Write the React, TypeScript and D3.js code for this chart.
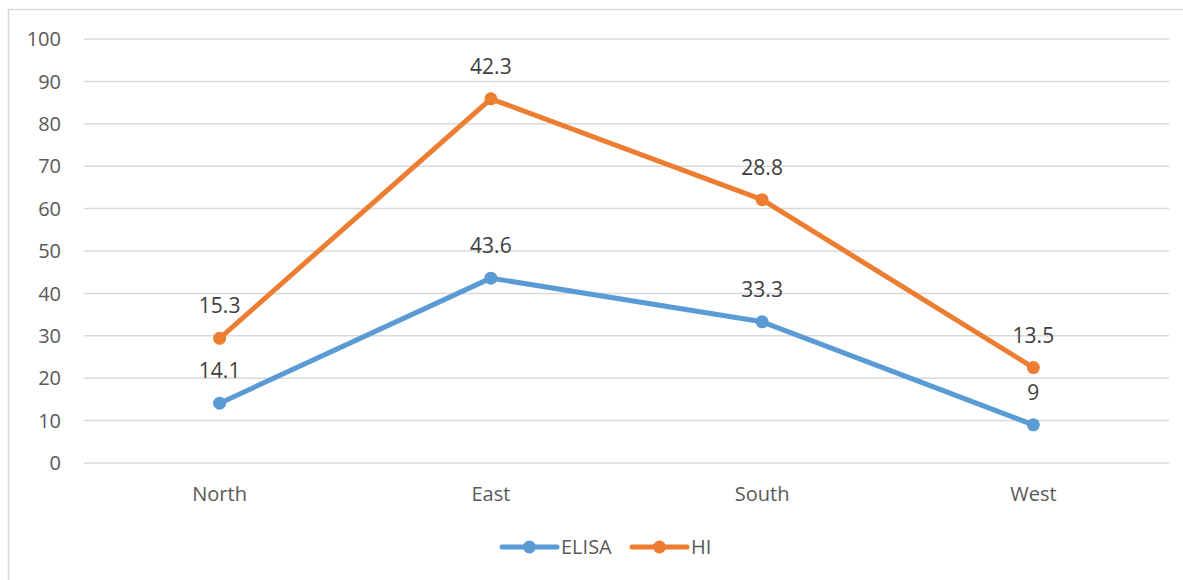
import React from "react";
import * as d3 from "d3";

const categories = ["North", "East", "South", "West"];
const elisa = [14.1, 43.6, 33.3, 9];
const hi = [15.3, 42.3, 28.8, 13.5];
const yTicks = [0, 10, 20, 30, 40, 50, 60, 70, 80, 90, 100];
const seriesNames = ["ELISA", "HI"];
const colors = ["#5b9bd5", "#ed7d31"];

export default function App() {
  const W = 1183;
  const H = 580;
  const left = 84, right = 1169, top = 39, bottom = 463;
  const x = d3.scaleBand().domain(categories).range([left, right]);
  const y = d3.scaleLinear().domain([0, 100]).range([bottom, top]);
  const cx = (c: string) => (x(c) as number) + x.bandwidth() / 2;

  const stacked = [elisa, elisa.map((v, i) => v + hi[i])];
  const labels = [elisa, hi];
  const line = d3
    .line<number>()
    .x((_, i) => cx(categories[i]))
    .y((d) => y(d));

  const font = "'Open Sans', 'Liberation Sans', sans-serif";

  const legendItems = [
    { name: seriesNames[0], x0: 502, color: colors[0] },
    { name: seriesNames[1], x0: 632, color: colors[1] },
  ];

  return (
    <svg
      width={W}
      height={H}
      style={{ position: "absolute", left: 0, top: 0, display: "block", background: "#fff" }}
    >
      <rect x={8.5} y={9.5} width={1200} height={600} fill="#fff" stroke="#d9d9d9" strokeWidth={1.5} />
      {yTicks.map((t) => (
        <g key={t}>
          <line x1={left} x2={right} y1={y(t)} y2={y(t)} stroke="#d9d9d9" strokeWidth={1.5} />
          <text
            x={61}
            y={y(t)}
            dy="0.36em"
            textAnchor="end"
            fontFamily={font}
            fontSize={20}
            fill="#595959"
          >
            {t}
          </text>
        </g>
      ))}
      {categories.map((c) => (
        <text
          key={c}
          x={cx(c)}
          y={501}
          textAnchor="middle"
          fontFamily={font}
          fontSize={20}
          fill="#595959"
        >
          {c}
        </text>
      ))}
      {stacked.map((s, si) => (
        <g key={si}>
          <path d={line(s) || ""} fill="none" stroke={colors[si]} strokeWidth={5} strokeLinejoin="round" strokeLinecap="round" />
          {s.map((v, i) => (
            <circle key={i} cx={cx(categories[i])} cy={y(v)} r={6.5} fill={colors[si]} />
          ))}
          {s.map((v, i) => (
            <text
              key={"l" + i}
              x={cx(categories[i])}
              y={y(v) - 25}
              textAnchor="middle"
              fontFamily={font}
              fontSize={21}
              fill="#404040"
            >
              {labels[si][i]}
            </text>
          ))}
        </g>
      ))}
      {legendItems.map((it) => (
        <g key={it.name}>
          <line x1={it.x0} x2={it.x0 + 55} y1={547} y2={547} stroke={it.color} strokeWidth={5} strokeLinecap="round" />
          <circle cx={it.x0 + 27.5} cy={547} r={6.5} fill={it.color} />
          <text x={it.x0 + 59} y={547} dy="0.36em" fontFamily={font} fontSize={20} fill="#595959">
            {it.name}
          </text>
        </g>
      ))}
    </svg>
  );
}
